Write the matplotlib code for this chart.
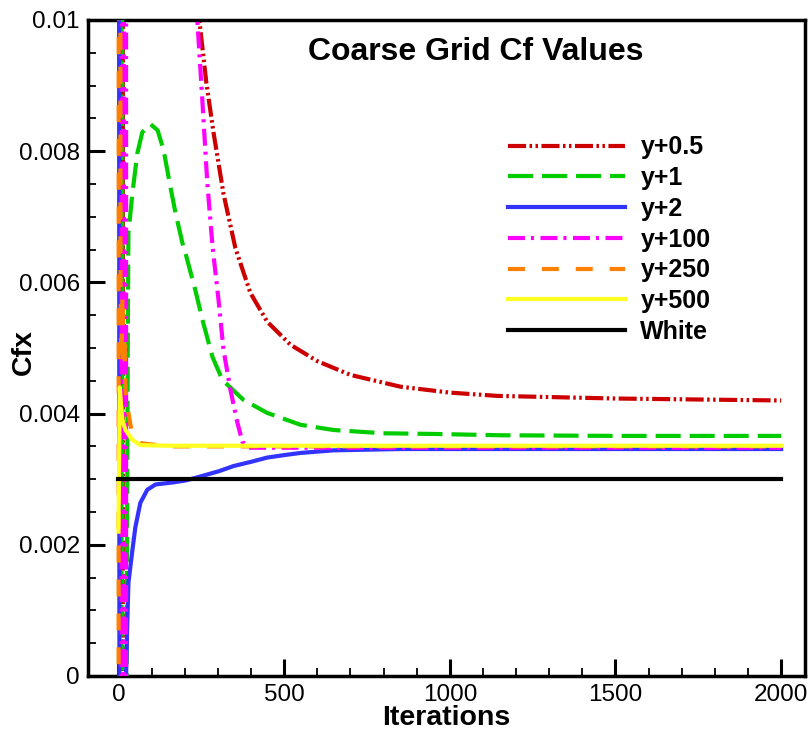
import matplotlib
matplotlib.use("Agg")
import matplotlib.pyplot as plt
from matplotlib.ticker import MultipleLocator, FixedLocator, FixedFormatter

plt.rcParams['font.family'] = ['Liberation Sans', 'DejaVu Sans']
plt.rcParams['lines.scale_dashes'] = False

# ---------------- data ----------------
labels = ["y+0.5", "y+1", "y+2", "y+100", "y+250", "y+500", "White"]

iter_y05 = [13, 14, 20, 100, 150, 200, 225, 244, 265, 287, 317, 353, 398, 449, 519, 600, 700,
            851, 1000, 1143, 1500, 2000]
cf_y05 = [-0.01, 0.2, 0.15, 0.03, 0.02, 0.0135, 0.0114, 0.0100, 0.00905, 0.00828, 0.00735,
          0.00652, 0.00584, 0.00540, 0.00505, 0.00480, 0.00459, 0.00441, 0.00432, 0.00427,
          0.00423, 0.00420]

iter_y1 = [9, 10, 12, 24, 28, 30, 42, 57, 72, 97, 118, 136, 157, 172, 193, 202, 232, 256, 284,
           314, 377, 449, 549, 649, 799, 950, 1152, 1500, 2000]
cf_y1 = [-0.01, 0.1, -0.05, -0.001, 0.0050, 0.00675, 0.00736, 0.00797, 0.00829, 0.00841,
         0.00832, 0.00802, 0.00745, 0.00706, 0.00660, 0.00645, 0.00588, 0.00538, 0.00486,
         0.00451, 0.00421, 0.00401, 0.00383, 0.00375, 0.00370, 0.00369, 0.00367, 0.00366, 0.00366]

iter_y2 = [0, 3, 22, 26, 30, 42, 51, 66, 87, 112, 163, 202, 232, 302, 347, 404, 449, 504, 549,
           649, 851, 1200, 2000]
cf_y2 = [0.03, -0.002, -0.0002, 0.0007, 0.00142, 0.00192, 0.00227, 0.00264, 0.00284, 0.00292,
         0.00295, 0.00298, 0.00302, 0.00312, 0.00320, 0.00327, 0.00333, 0.00337, 0.00340,
         0.00344, 0.00346, 0.00346, 0.00346]

iter_y100 = [8.9, 9.1, 15.9, 16.1, 22.9, 23.1, 120, 200, 225, 238, 253, 268, 284, 302, 317, 338,
             359, 374, 392, 450, 1000, 2000]
cf_y100 = [-0.05, 0.1, 0.1, -0.05, -0.05, 0.1, 0.04, 0.02, 0.0125, 0.0100, 0.00878, 0.00752,
           0.00654, 0.00573, 0.00497, 0.00436, 0.00386, 0.00357, 0.00348, 0.00348, 0.00348, 0.00348]

iter_y250 = [0, 2, 6, 9, 12, 15, 18, 21, 30, 42, 66, 150, 2000]
cf_y250 = [-0.02, 0.08, 0.0060, 0.0048, 0.0058, 0.0047, 0.0052, 0.00436, 0.00401, 0.00367,
           0.00355, 0.00350, 0.00350]

iter_y500 = [0, 4, 8, 12, 21, 42, 66, 150, 2000]
cf_y500 = [0.0022, 0.0044, 0.0041, 0.0039, 0.00375, 0.0036, 0.00352, 0.00351, 0.00351]

iter_white = [0, 2000]
cf_white = [0.003, 0.003]

xticks = [0, 500, 1000, 1500, 2000]
xtick_labels = ["0", "500", "1000", "1500", "2000"]
yticks = [0, 0.002, 0.004, 0.006, 0.008, 0.01]
ytick_labels = ["0", "0.002", "0.004", "0.006", "0.008", "0.01"]

# ---------------- figure ----------------
fig = plt.figure(figsize=(8.12, 7.31), dpi=100)
ax = fig.add_axes([88 / 812, 55 / 731, 717 / 812, 656 / 731])

lw = 3.0
series = [
    (iter_y05, cf_y05, "#CC0000", (0, (13, 2.5, 1.8, 2.5, 1.8, 2.5))),
    (iter_y1, cf_y1, "#00CC00", (0, (18, 6.5))),
    (iter_y2, cf_y2, "#3333FF", "-"),
    (iter_y100, cf_y100, "#FF00FF", (0, (12.2, 4.3, 2.2, 4.7))),
    (iter_y250, cf_y250, "#FF8000", (0, (12.2, 12.2))),
    (iter_y500, cf_y500, "#FFFF22", "-"),
    (iter_white, cf_white, "#000000", "-"),
]
for i, (xs, ys, c, ls) in enumerate(series):
    ax.plot(xs, ys, color=c, linestyle=ls, linewidth=lw, label=labels[i], zorder=2 + i)

ax.set_xlim(-92, 2072)
ax.set_ylim(0, 0.01)

ax.xaxis.set_major_locator(FixedLocator(xticks))
ax.xaxis.set_major_formatter(FixedFormatter(xtick_labels))
ax.xaxis.set_minor_locator(MultipleLocator(100))
ax.yaxis.set_major_locator(FixedLocator(yticks))
ax.yaxis.set_major_formatter(FixedFormatter(ytick_labels))
ax.yaxis.set_minor_locator(MultipleLocator(0.0005))

ax.tick_params(axis='both', which='major', direction='in', length=12, width=2.2,
               labelsize=17.5, pad=6)
ax.tick_params(axis='both', which='minor', direction='in', length=6, width=1.3)
ax.tick_params(top=False, right=False, which='both')
for sp in ax.spines.values():
    sp.set_linewidth(2.5)

ax.set_xlabel("Iterations", fontsize=20.5, fontweight='bold')
ax.xaxis.set_label_coords(0.5, -0.044)
ax.set_ylabel("Cfx", fontsize=20.5, fontweight='bold')
ax.yaxis.set_label_coords(-0.071, 0.494)

ax.text(0.541, 0.951, "Coarse Grid Cf Values", transform=ax.transAxes, ha='center',
        va='center', fontsize=23, fontweight='bold')

leg = ax.legend(loc='upper left', bbox_to_anchor=(0.586, 0.824), frameon=False,
                borderpad=0, borderaxespad=0, handlelength=4.67, handletextpad=0.62,
                labelspacing=0.27, prop={'size': 18, 'weight': 'bold'})
for t in leg.get_texts():
    t.set_fontweight('bold')

fig.savefig("out.png", dpi=100)
